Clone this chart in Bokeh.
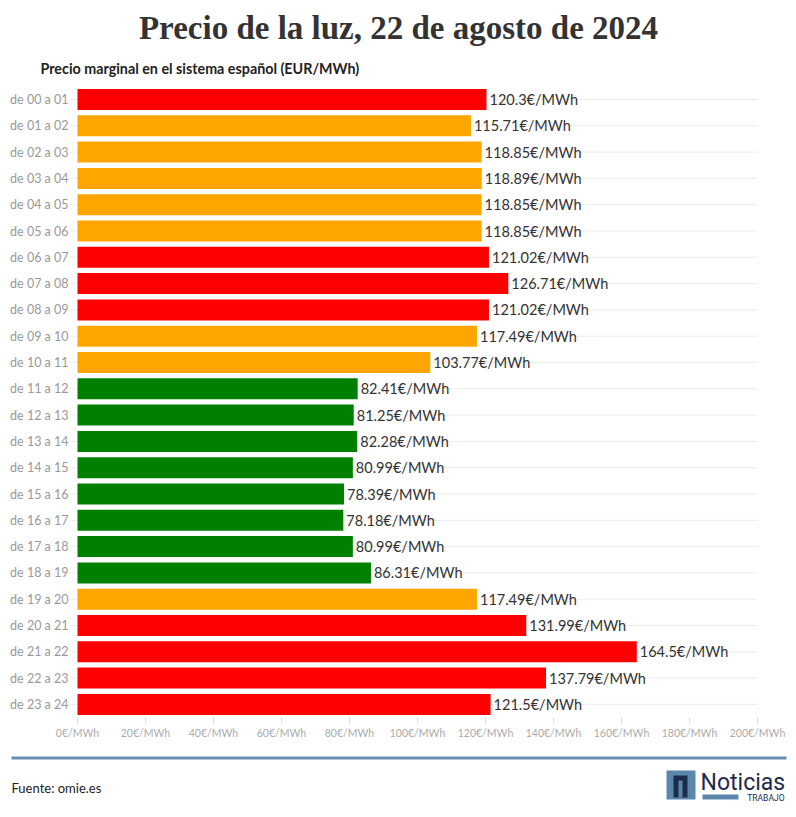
from bokeh.plotting import figure
from bokeh.models import ColumnDataSource, Range1d, Label, BoxAnnotation
from bokeh.embed import file_html
from bokeh.resources import INLINE
from bokeh.core.properties import value

title_text = "Precio de la luz, 22 de agosto de 2024"
subtitle_text = "Precio marginal en el sistema español (EUR/MWh)"
source_text = "Fuente: omie.es"

hours = ["de 00 a 01", "de 01 a 02", "de 02 a 03", "de 03 a 04", "de 04 a 05",
         "de 05 a 06", "de 06 a 07", "de 07 a 08", "de 08 a 09", "de 09 a 10",
         "de 10 a 11", "de 11 a 12", "de 12 a 13", "de 13 a 14", "de 14 a 15",
         "de 15 a 16", "de 16 a 17", "de 17 a 18", "de 18 a 19", "de 19 a 20",
         "de 20 a 21", "de 21 a 22", "de 22 a 23", "de 23 a 24"]
prices = [120.3, 115.71, 118.85, 118.89, 118.85, 118.85, 121.02, 126.71,
          121.02, 117.49, 103.77, 82.41, 81.25, 82.28, 80.99, 78.39, 78.18,
          80.99, 86.31, 117.49, 131.99, 164.5, 137.79, 121.5]
bar_colors = ["#ff0000", "#ffa500", "#ffa500", "#ffa500", "#ffa500", "#ffa500",
              "#ff0000", "#ff0000", "#ff0000", "#ffa500", "#ffa500", "#008000",
              "#008000", "#008000", "#008000", "#008000", "#008000", "#008000",
              "#008000", "#ffa500", "#ff0000", "#ff0000", "#ff0000", "#ff0000"]
x_ticks = [0, 20, 40, 60, 80, 100, 120, 140, 160, 180, 200]
x_tick_labels = ["0€/MWh", "20€/MWh", "40€/MWh", "60€/MWh", "80€/MWh", "100€/MWh",
                 "120€/MWh", "140€/MWh", "160€/MWh", "180€/MWh", "200€/MWh"]

# ---------------- layout (pixels) ----------------
W, H = 790, 812
X0, PX = 77, 3.4            # pixel of value 0, pixels per €/MWh
Y0, ROW = 99, 26.3          # pixel centre of first row, row pitch
SANS = "Lato"
NAVY = "#1d2c4d"
LOGO_BLUE = "#5a87ab"


def yv(Y):                  # page pixel -> row units
    return (Y - Y0) / ROW


x_range = Range1d(-X0 / PX, (W - X0) / PX)
y_range = Range1d(yv(H), yv(0))     # reversed: first hour on top
x_max = x_ticks[-1]
rows = list(range(len(hours)))

src = ColumnDataSource(dict(row=rows, hour=hours, price=prices, color=bar_colors,
                            label=[f"{v}€/MWh" for v in prices]))

p = figure(width=W, height=H, x_range=x_range, y_range=y_range,
           x_axis_type=None, y_axis_type=None, toolbar_location=None,
           output_backend="svg", min_border=0, outline_line_color=None)
p.grid.visible = False

# horizontal grid lines + y tick marks
p.segment(x0=[-8 / PX] * len(rows), x1=[x_max] * len(rows), y0=rows, y1=rows,
          line_color="#ececec", line_width=1)
# bars
p.hbar(y="row", right="price", left=0, height=0.8, color="color", line_color=None, source=src)
# value labels
p.text(x="price", y="row", text="label", source=src, x_offset=3,
       text_baseline="middle", text_align="left", text_font=value(SANS),
       text_font_size="14.5px", text_color="#333333")
# category labels
p.text(x=0, y="row", text="hour", source=src, x_offset=-9,
       text_baseline="middle", text_align="right", text_font=value(SANS),
       text_font_size="12.5px", text_color="#999999")
# x ticks and labels
p.segment(x0=x_ticks, x1=x_ticks, y0=[yv(717)] * len(x_ticks), y1=[yv(723)] * len(x_ticks),
          line_color="#dddddd", line_width=1)
p.text(x=x_ticks, y=[yv(732)] * len(x_ticks), text=x_tick_labels,
       text_baseline="middle", text_align="center", text_font=value(SANS),
       text_font_size="10.5px", text_color="#aaaaaa")


# ---------------- header / footer (screen units, frame = whole canvas) ----------------
def sx(X):
    return X


def sy(Y):
    return H - Y


def label(X, Y, text, **kw):
    p.add_layout(Label(x=sx(X), y=sy(Y), x_units="screen", y_units="screen", text=text, **kw))


def box(L, R, T, B, color):
    p.add_layout(BoxAnnotation(left=sx(L), right=sx(R), top=sy(T), bottom=sy(B),
                               left_units="screen", right_units="screen",
                               top_units="screen", bottom_units="screen",
                               fill_color=color, fill_alpha=1, line_color=None))


label(398, 27, title_text, text_align="center", text_baseline="middle",
      text_font="Liberation Serif", text_font_size="33px", text_font_style="bold",
      text_color="#333333")
label(40, 68, subtitle_text, text_align="left", text_baseline="middle",
      text_font=SANS, text_font_size="14.3px", text_font_style="bold", text_color="#222222")

box(11, 786, 756, 759, "#6a8fad")
label(11, 787, source_text, text_align="left", text_baseline="middle",
      text_font=SANS, text_font_size="13px", text_color="#222222")

# logo: blue square with a blocky navy "n" mark
box(666, 695, 770, 799, LOGO_BLUE)
box(673, 687, 775, 797, NAVY)
box(678, 682, 780, 797, LOGO_BLUE)
label(700, 782, "Noticias", text_align="left", text_baseline="middle",
      text_font="Roboto", text_font_size="23px", text_color=NAVY)
box(702, 738, 794, 799, LOGO_BLUE)
label(784, 797, "TRABAJO", text_align="right", text_baseline="middle",
      text_font="Roboto", text_font_size="8.5px", text_color=NAVY)

open("out.html", "w").write(file_html(p, INLINE))
